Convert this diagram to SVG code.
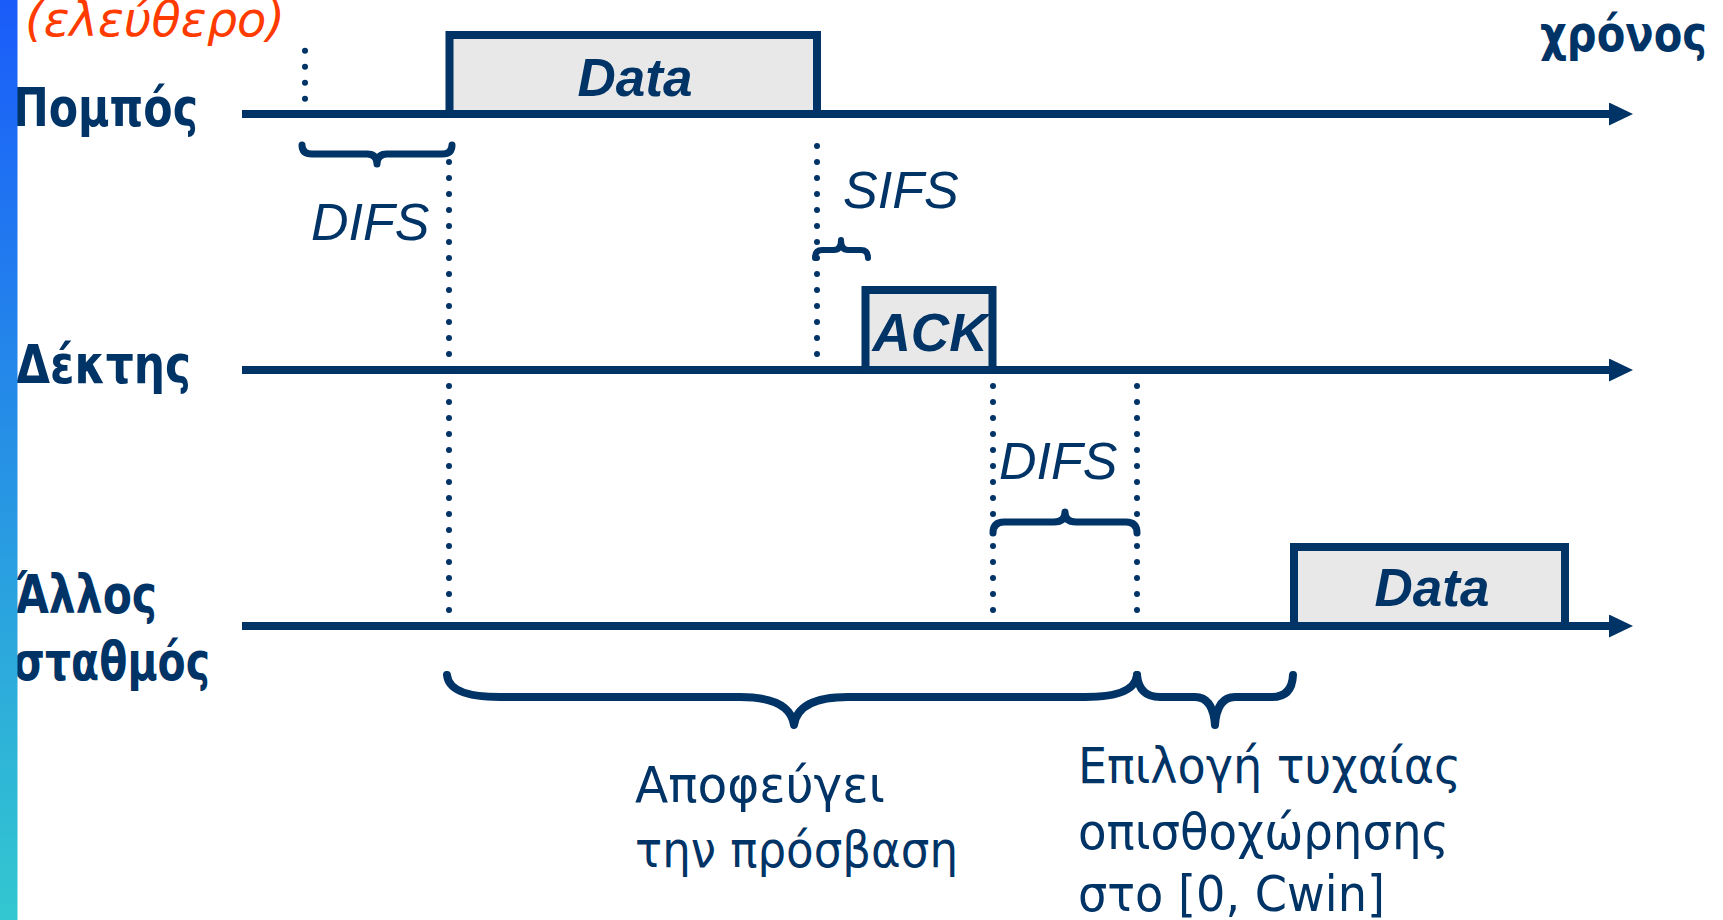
<svg xmlns="http://www.w3.org/2000/svg" width="1723" height="920" viewBox="0 0 1723 920">
  <defs>
    <linearGradient id="barGrad" x1="0" y1="0" x2="0" y2="1">
      <stop offset="0" stop-color="#1a5cfa"/>
      <stop offset="1" stop-color="#33c8d0"/>
    </linearGradient>
    <marker id="arrow" markerUnits="userSpaceOnUse" markerWidth="26" markerHeight="24" refX="2" refY="11.5" orient="auto">
      <path d="M0,0 L24,11.5 L0,23 Z" fill="#003366"/>
    </marker>
  </defs>
  <style>
    .axis { stroke: #003366; stroke-width: 8; fill: none; }
    .dots { stroke: #003366; stroke-width: 6; stroke-linecap: round; stroke-dasharray: 0 16; fill: none; }
    .brace { stroke: #003366; stroke-width: 8; stroke-linecap: round; stroke-linejoin: round; fill: none; }
    .frame { fill: #e8e8e8; stroke: #003366; stroke-width: 8; }
    .frame-label { font-family: "Liberation Sans", Arial, sans-serif; font-weight: bold; font-style: italic; font-size: 53px; fill: #003366; text-anchor: middle; }
    .ifs { font-family: "Liberation Sans", Arial, sans-serif; font-style: italic; font-size: 52px; fill: #003366; }
    .station { font-family: "DejaVu Sans", "Noto Sans", sans-serif; font-weight: bold; font-size: 54px; fill: #003366; }
    .note { font-family: "DejaVu Sans", "Noto Sans", sans-serif; font-size: 50px; fill: #003366; }
    .free { font-family: "DejaVu Sans", "Noto Sans", sans-serif; font-style: italic; font-size: 48px; fill: #ff3b00; }
  </style>

  <rect width="1723" height="920" fill="#ffffff"/>

  <g id="header">
    <text class="free" x="25" y="36" textLength="260" lengthAdjust="spacingAndGlyphs">(ελεύθερο)</text>
    <text class="station" x="1540" y="51" style="font-size:50px" textLength="167" lengthAdjust="spacingAndGlyphs">χρόνος</text>
  </g>

  <g id="station-labels">
    <text id="label-pompos" class="station" x="13" y="126" textLength="185" lengthAdjust="spacingAndGlyphs">Πομπός</text>
    <text id="label-dektis" class="station" x="16" y="383" textLength="175" lengthAdjust="spacingAndGlyphs">Δέκτης</text>
    <text id="label-allos" class="station" x="15" y="613" textLength="142" lengthAdjust="spacingAndGlyphs">Άλλος</text>
    <text id="label-stathmos" class="station" x="13" y="680" textLength="197" lengthAdjust="spacingAndGlyphs">σταθμός</text>
  </g>

  <g id="connectors">
    <line class="axis" x1="242" y1="114" x2="1611" y2="114" marker-end="url(#arrow)"/>
    <line class="axis" x1="242" y1="370" x2="1611" y2="370" marker-end="url(#arrow)"/>
    <line class="axis" x1="242" y1="626" x2="1611" y2="626" marker-end="url(#arrow)"/>

    <line class="dots" x1="305" y1="50.7" x2="305" y2="99"/>
    <line class="dots" x1="449" y1="162" x2="449" y2="611"/>
    <line class="dots" x1="817" y1="146" x2="817" y2="355"/>
    <line class="dots" x1="993" y1="386" x2="993" y2="611"/>
    <line class="dots" x1="1137" y1="386" x2="1137" y2="611"/>

    <path class="brace" style="stroke-width:7" d="M302,145 Q302,154 312,154 L367,154 Q377,154 377,164 Q377,154 387,154 L442,154 Q452,154 452,145"/>
    <path class="brace" style="stroke-width:6" d="M815,258 Q815,250 822,250 L834,250 Q841,250 841,240 Q841,250 848,250 L861,250 Q868,250 868,258"/>
    <path class="brace" style="stroke-width:7" d="M993,533 Q993,522 1004,522 L1054,522 Q1065,522 1065,512 Q1065,522 1076,522 L1126,522 Q1137,522 1137,533"/>
    <path class="brace" d="M447,675 Q449,697 500,697 L740,697 Q790,697 794,725 Q798,697 848,697 L1085,697 Q1135,697 1137,675"/>
    <path class="brace" d="M1137,675 Q1139,697 1160,697 L1195,697 Q1213,697 1215,725 Q1217,697 1235,697 L1272,697 Q1292,697 1293,675"/>
  </g>

  <g id="frame-data-1">
    <rect class="frame" x="449.5" y="35" width="367.5" height="79"/>
    <text class="frame-label" x="635" y="96">Data</text>
  </g>

  <g id="frame-ack">
    <rect class="frame" x="865.5" y="290" width="127" height="80"/>
    <text class="frame-label" x="930" y="351" textLength="115" lengthAdjust="spacingAndGlyphs">ACK</text>
  </g>

  <g id="frame-data-2">
    <rect class="frame" x="1294" y="547" width="271" height="79"/>
    <text class="frame-label" x="1432" y="606">Data</text>
  </g>

  <g id="interval-labels">
    <text class="ifs" x="311" y="240">DIFS</text>
    <text class="ifs" x="843" y="208">SIFS</text>
    <text class="ifs" x="999" y="479">DIFS</text>
  </g>

  <g id="notes">
    <text class="note" x="635" y="802" textLength="250" lengthAdjust="spacingAndGlyphs">Αποφεύγει</text>
    <text class="note" x="635" y="867" textLength="323" lengthAdjust="spacingAndGlyphs">την πρόσβαση</text>
    <text class="note" x="1078" y="783" textLength="383" lengthAdjust="spacingAndGlyphs">Επιλογή τυχαίας</text>
    <text class="note" x="1078" y="849" textLength="371" lengthAdjust="spacingAndGlyphs">οπισθοχώρησης</text>
    <text class="note" x="1078" y="911" textLength="307" lengthAdjust="spacingAndGlyphs">στο [0, Cwin]</text>
  </g>

  <rect id="side-bar" x="0" y="0" width="17.5" height="920" fill="url(#barGrad)"/>
</svg>
